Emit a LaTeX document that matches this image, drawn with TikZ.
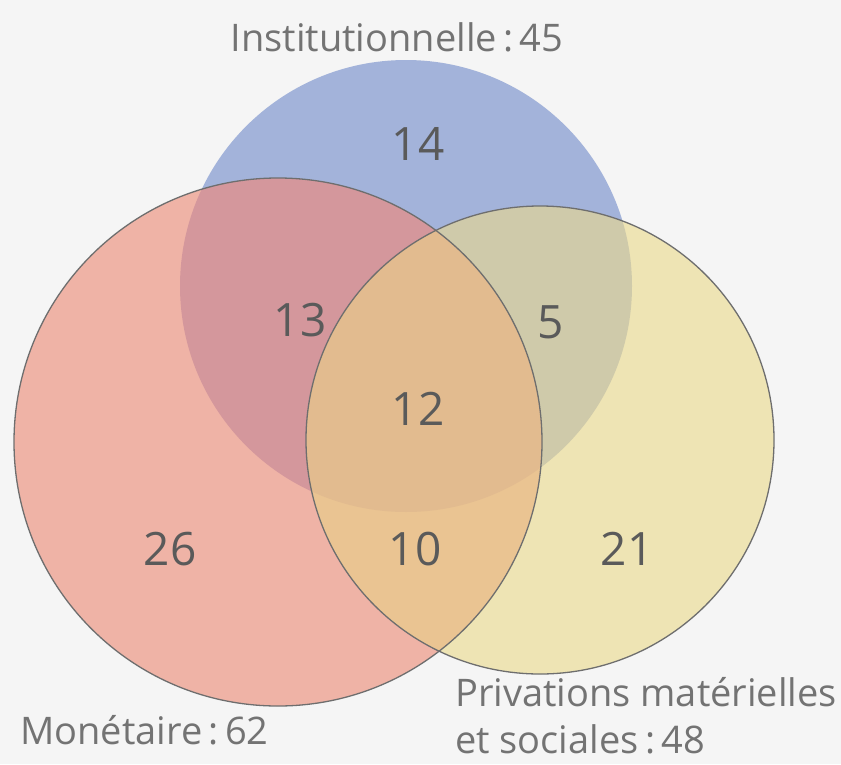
\documentclass[tikz,border=0pt]{standalone}
\usepackage{fontspec}
\setmainfont{Open Sans}
\definecolor{bgc}{HTML}{F5F5F5}
\definecolor{cblue}{HTML}{A3B3DA}
\definecolor{cred}{HTML}{EFB3A6}
\definecolor{cyel}{HTML}{EEE4B4}
\definecolor{crb}{HTML}{D4979C}
\definecolor{cby}{HTML}{CFCAAA}
\definecolor{cry}{HTML}{EAC492}
\definecolor{crby}{HTML}{E2BB8F}
\definecolor{cline}{HTML}{6E6E6E}
\definecolor{ctext}{HTML}{5A5A5A}
\begin{document}
\begin{tikzpicture}[x=1pt,y=-1pt,
  num/.style={text=ctext,font=\fontsize{46}{50}\selectfont,inner sep=0pt},
  lab/.style={text=ctext!85,font=\fontsize{38}{47}\selectfont,inner sep=0pt},
  outline/.style={draw=cline,line width=1.3pt}]
\fill[bgc] (0,0) rectangle (841,764);
\useasboundingbox (0,0) rectangle (841,764);
\def\bluec{(406,286) circle (226)}
\def\redc{(278,442) circle (264)}
\def\yelc{(540,440) circle (234)}
% blue
\fill[cblue] \bluec;
% red
\fill[cred] \redc;
\begin{scope}\clip \redc; \fill[crb] \bluec; \end{scope}
% yellow
\fill[cyel] \yelc;
\begin{scope}\clip \yelc; \fill[cby] \bluec; \end{scope}
\begin{scope}\clip \yelc; \fill[cry] \redc; \end{scope}
\begin{scope}\clip \yelc; \clip \redc; \fill[crby] \bluec; \end{scope}
% outlines
\draw[outline] \redc;
\draw[outline] \yelc;
% numbers
\node[num] (n14) at (418,144) {14};
\node[num] (n13) at (300,320) {13};
\node[num] (n5) at (551,322) {5};
\node[num] (n12) at (418,409) {12};
\node[num] (n26) at (170,549) {26};
\node[num] (n10) at (415,549) {10};
\node[num] (n21) at (627,549) {21};
% labels
\node[lab] (linst) at (397,37) {Institutionnelle\,:\,45};
\node[lab,anchor=west] (lmon) at (20,730) {Monétaire\,:\,62};
\node[lab,anchor=west,align=left] (lpriv) at (455,716) {Privations matérielles\\et sociales\,:\,48};
\end{tikzpicture}
\end{document}
